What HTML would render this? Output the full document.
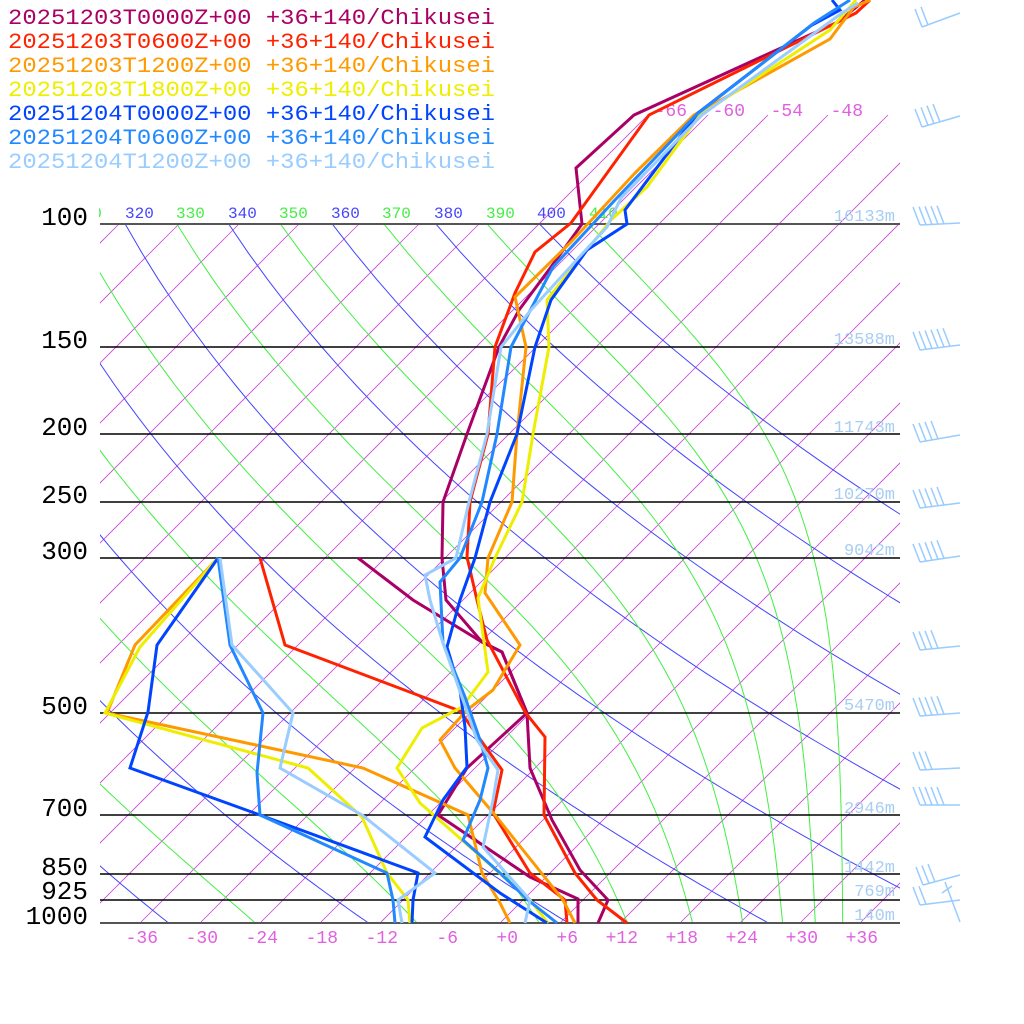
<!DOCTYPE html>
<html><head><meta charset="utf-8"><style>
html,body{margin:0;padding:0;background:#fff;}
svg{display:block;}
text{font-family:"Liberation Mono",monospace;}
</style></head><body>
<svg id="s" xmlns="http://www.w3.org/2000/svg" width="1024" height="1024" viewBox="0 0 1024 1024">
<defs>
<clipPath id="cp"><rect x="100" y="224" width="800" height="699"/></clipPath>
<clipPath id="ci"><rect x="100" y="100" width="800" height="823"/></clipPath>
<clipPath id="cl"><rect x="99" y="190" width="900" height="40"/></clipPath>
</defs>
<rect width="1024" height="1024" fill="#fff"/>
<g id="iso" clip-path="url(#ci)" stroke="#cc44dd" stroke-width="0.8" fill="none"></g>
<g id="dry" clip-path="url(#cp)" stroke="#4444ff" stroke-width="1" fill="none"></g>
<g id="moist" clip-path="url(#cp)" stroke="#44ee44" stroke-width="1" fill="none"></g>
<g stroke="#000" stroke-width="1.5">
<line x1="100" y1="224" x2="900" y2="224" stroke="#555" stroke-width="2"/>
<line x1="100" y1="347" x2="900" y2="347"/>
<line x1="100" y1="434" x2="900" y2="434"/>
<line x1="100" y1="502" x2="900" y2="502"/>
<line x1="100" y1="558" x2="900" y2="558"/>
<line x1="100" y1="713" x2="900" y2="713"/>
<line x1="100" y1="815" x2="900" y2="815"/>
<line x1="100" y1="874" x2="900" y2="874"/>
<line x1="100" y1="900" x2="900" y2="900"/>
<line x1="100" y1="923" x2="900" y2="923" stroke="#555" stroke-width="2"/>
</g>
<g font-size="26" fill="#000" text-anchor="end">
<text x="88" y="225">100</text><text x="88" y="348">150</text><text x="88" y="435">200</text>
<text x="88" y="503">250</text><text x="88" y="559">300</text><text x="88" y="714">500</text>
<text x="88" y="816">700</text><text x="88" y="875">850</text><text x="88" y="899">925</text>
<text x="88" y="924">1000</text>
</g>
<g font-size="16" clip-path="url(#cl)">
<text x="73" y="218" fill="#44ee44">310</text>
<text x="125" y="218" fill="#4444ff">320</text>
<text x="176" y="218" fill="#44ee44">330</text>
<text x="228" y="218" fill="#4444ff">340</text>
<text x="279" y="218" fill="#44ee44">350</text>
<text x="331" y="218" fill="#4444ff">360</text>
<text x="382" y="218" fill="#44ee44">370</text>
<text x="434" y="218" fill="#4444ff">380</text>
<text x="486" y="218" fill="#44ee44">390</text>
<text x="537" y="218" fill="#4444ff">400</text>
<text x="589" y="218" fill="#44ee44">410</text>
</g>
<g font-size="18" fill="#e060e0" text-anchor="end">
<text x="158" y="943">-36</text><text x="218" y="943">-30</text><text x="278" y="943">-24</text>
<text x="338" y="943">-18</text><text x="398" y="943">-12</text><text x="458" y="943">-6</text>
<text x="518" y="943">+0</text><text x="578" y="943">+6</text><text x="638" y="943">+12</text>
<text x="698" y="943">+18</text><text x="758" y="943">+24</text><text x="818" y="943">+30</text>
<text x="878" y="943">+36</text>
<text x="687" y="116">-66</text><text x="745" y="116">-60</text><text x="803" y="116">-54</text><text x="863" y="116">-48</text>
</g>
<g font-size="17" fill="#a8cdf2" text-anchor="end">
<text x="895" y="221">16133m</text><text x="895" y="344">13588m</text><text x="895" y="432">11743m</text>
<text x="895" y="499">10270m</text><text x="895" y="555">9042m</text><text x="895" y="710">5470m</text>
<text x="895" y="813">2946m</text><text x="895" y="872">1442m</text><text x="895" y="896">769m</text>
<text x="895" y="920">140m</text>
</g>
<g id="snd" fill="none" stroke-width="3" stroke-linejoin="miter"></g>
<g id="barbs" stroke="#99ccff" stroke-width="1.5" fill="none"></g>
<g font-size="22">
<text x="8" y="24" fill="#aa0066" textLength="487" lengthAdjust="spacingAndGlyphs">20251203T0000Z+00 +36+140/Chikusei</text>
<text x="8" y="48" fill="#ff2200" textLength="487" lengthAdjust="spacingAndGlyphs">20251203T0600Z+00 +36+140/Chikusei</text>
<text x="8" y="72" fill="#ff9900" textLength="487" lengthAdjust="spacingAndGlyphs">20251203T1200Z+00 +36+140/Chikusei</text>
<text x="8" y="96" fill="#eeee00" textLength="487" lengthAdjust="spacingAndGlyphs">20251203T1800Z+00 +36+140/Chikusei</text>
<text x="8" y="120" fill="#0044ff" textLength="487" lengthAdjust="spacingAndGlyphs">20251204T0000Z+00 +36+140/Chikusei</text>
<text x="8" y="144" fill="#2288ff" textLength="487" lengthAdjust="spacingAndGlyphs">20251204T0600Z+00 +36+140/Chikusei</text>
<text x="8" y="168" fill="#99ccff" textLength="487" lengthAdjust="spacingAndGlyphs">20251204T1200Z+00 +36+140/Chikusei</text>
</g>
</svg>
<script>
(function(){
var NS="http://www.w3.org/2000/svg";
function Y(p){return 923-303.6*Math.log(1000/p);}
function X(T,y){return 500+10*T+(923-y);}
function add(g,tag,attrs){var e=document.createElementNS(NS,tag);for(var k in attrs)e.setAttribute(k,attrs[k]);document.getElementById(g).appendChild(e);return e;}
for(var T=-150;T<=48;T+=6){var y1=T>=-66?115:224;add("iso","line",{x1:X(T,923),y1:923,x2:X(T,y1),y2:y1});}
for(var th=240;th<=400;th+=20){var pts=[];for(var p=1000;p>=100;p-=10){var t=th*Math.pow(p/1000,0.2857)-273.15;var y=Y(p);pts.push(X(t,y).toFixed(1)+","+y.toFixed(1));}add("dry","polyline",{points:pts.join(" ")});}
function thetae(TK,p){var Tc=TK-273.15;var es=6.112*Math.exp(17.67*Tc/(Tc+243.5));var rs=0.622*es/Math.max(p-es,1);return TK*Math.pow(1000/p,0.2857)*Math.exp(2.5e6*rs/(1004*TK));}
for(var te=250;te<=410;te+=20){var pts=[];for(var p=1000;p>=100;p-=10){var lo=120,hi=340;for(var i=0;i<50;i++){var m=(lo+hi)/2;if(thetae(m,p)>te)hi=m;else lo=m;}var t=(lo+hi)/2-273.15;var y=Y(p);pts.push(X(t,y).toFixed(1)+","+y.toFixed(1));}add("moist","polyline",{points:pts.join(" ")});}
var S=[
["#aa0066","865,0 838,22 634,115 576,168 582,224 551,267 519,310 499,347 467,434 443,502 442,558 446,600 482,642 502,652 527,713 530,768 552,820 580,870 608,900 598,923"],
["#aa0066","358,558 413,600 482,642 502,652 527,713 467,768 438,815 530,877 578,899 578,923"],
["#ff2200","870,0 856,13 649,115 571,223 535,252 515,293 495,347 488,434 470,502 467,557 477,600 487,640 525,712 545,737 544,815 575,873 597,900 627,923"],
["#ff2200","260,558 285,645 460,711 502,770 493,813 530,873 565,900 567,923"],
["#ff9900","870,0 854,7 830,39 694,115 635,173 571,242 515,297 526,347 517,434 512,502 488,558 485,593 520,645 493,690 467,710 440,740 455,768 495,815 543,875 563,900 575,923"],
["#ff9900","218,558 135,645 107,713 363,768 468,815 482,873 500,903 510,923"],
["#eeee00","856,0 830,30 700,115 647,187 611,220 547,300 549,347 533,434 522,502 495,558 478,598 488,672 462,707 422,728 397,768 420,803 462,840 530,900 548,923"],
["#eeee00","218,558 140,647 105,713 308,768 362,817 387,873 408,900 410,923"],
["#0044ff","832,0 840,10 812,25 698,113 625,210 627,224 587,250 551,300 535,347 517,434 490,502 475,558 460,600 447,647 460,690 465,727 467,767 443,800 425,837 500,893 547,923"],
["#0044ff","218,558 157,645 148,712 130,768 260,815 418,873 413,900 412,923"],
["#2288ff","850,0 814,23 696,115 615,200 553,267 511,347 497,434 482,502 460,558 440,582 443,643 465,697 480,740 488,768 480,800 463,840 500,873 528,900 557,923"],
["#2288ff","218,558 230,645 263,713 257,773 260,815 387,873 393,900 395,923"],
["#99ccff","858,3 842,13 702,115 621,198 607,227 583,253 531,310 501,347 487,434 469,502 456,558 425,575 430,600 442,640 477,740 498,770 493,800 483,847 530,900 525,923"],
["#99ccff","220,558 232,645 293,713 280,768 362,815 435,873 398,900 402,923"]];
S.forEach(function(s){add("snd","polyline",{points:s[1],stroke:s[0]});});
var B=[[922,27,13,2],[922,127,116,4],[920,225,223,5],[920,350,345,6],[920,442,435,4],[920,508,503,5],[920,562,556,5],[920,650,646,4],[920,716,713,5],[920,770,768,3],[920,805,805,5],[923,885,875,3],[920,905,900,2]];
B.forEach(function(b){var x=b[0],y=b[1],ye=b[2];add("barbs","line",{x1:x,y1:y,x2:960,y2:ye});for(var i=0;i<b[3];i++){var fx=x+i*6,fy=y+(ye-y)*(i*6)/40;add("barbs","line",{x1:fx,y1:fy,x2:fx-7,y2:fy-18});}});
add("barbs","line",{x1:945,y1:882,x2:960,y2:922});
add("barbs","line",{x1:942,y1:893,x2:952,y2:886});
})();
</script>
</body></html>
